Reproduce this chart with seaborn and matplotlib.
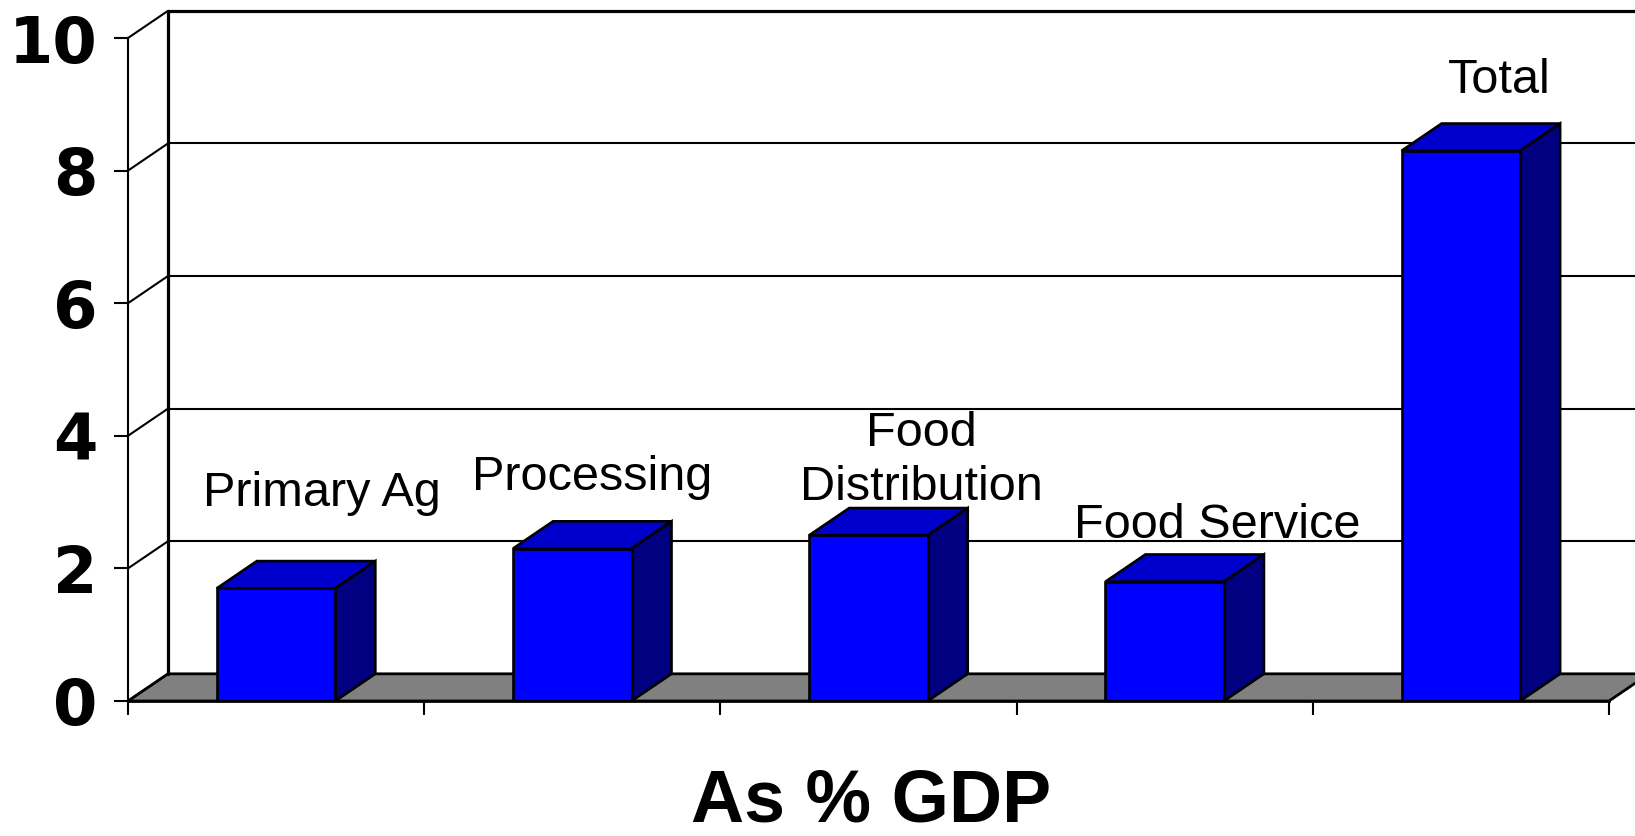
import matplotlib
matplotlib.use("Agg")
import matplotlib.pyplot as plt
from matplotlib.patches import Polygon
import pandas as pd
import seaborn as sns

# Food system share of GDP (%)
categories = ["Primary Ag", "Processing", "Food Distribution", "Food Service", "Total"]
bar_labels = ["Primary Ag", "Processing", "Food\nDistribution", "Food Service", "Total"]
values = [1.7, 2.3, 2.5, 1.8, 8.3]
y_ticks = [0, 2, 4, 6, 8, 10]
x_title = "As % GDP"

# label anchors (data coords: x centre, last-line baseline y)
label_anchor = [(0.153, 2.94), (1.068, 3.18), (2.179, 3.03), (3.178, 2.46), (4.129, 9.17)]

FRONT = "#0000FF"
TOP = "#0000CC"
SIDE = "#000080"
FLOOR = "#808080"
DX, DY = 0.135, 0.41          # oblique depth offset in data units
BAR_W = 0.4

sns.set_theme(style="white")
plt.rcParams["font.family"] = ["Liberation Sans", "DejaVu Sans"]
plt.rcParams["text.color"] = "black"
plt.rcParams["ytick.color"] = "black"
plt.rcParams["xtick.color"] = "black"

W, H = 1635, 836
fig = plt.figure(figsize=(W / 100, H / 100), dpi=100)
left_px, bottom_px, top_px = 128, 701, 12
ax = fig.add_axes([left_px / W, (H - bottom_px) / H, (W - left_px) / W, (bottom_px - top_px) / H])
ax.patch.set_alpha(0)

df = pd.DataFrame({"category": categories, "value": values})
sns.barplot(data=df, x="category", y="value", ax=ax, width=BAR_W, color=FRONT,
            saturation=1, edgecolor="black", linewidth=1.9, zorder=4)

px_per_cat = (1609 - 128) / 5
x_max = 4.5 + (W - 1609) / px_per_cat
y_max = 10 * (bottom_px - top_px) / (bottom_px - 38)
ax.set_xlim(-0.5, x_max)
ax.set_ylim(0, y_max)

# floor
floor = Polygon([(-0.5, 0), (4.5, 0), (4.5 + DX, DY), (-0.5 + DX, DY)], closed=True,
                facecolor=FLOOR, edgecolor="black", linewidth=2.0, zorder=1)
ax.add_patch(floor)

# back wall gridlines and side wall diagonals
for v in y_ticks:
    lw = 2.3 if v == 10 else 1.5
    if v > 0:
        ax.plot([-0.5 + DX, x_max + 0.5], [v + DY, v + DY], color="black", lw=lw,
                zorder=0.5, clip_on=(v != 10), solid_capstyle="butt")
    ax.plot([-0.5, -0.5 + DX], [v, v + DY], color="black", lw=1.5, zorder=2, clip_on=False)
ax.plot([-0.5 + DX, -0.5 + DX], [DY, 10 + DY], color="black", lw=2.3, zorder=2, clip_on=False)

# 3D tops and sides of bars
for p in list(ax.patches):
    if p is floor:
        continue
    x0, w, h = p.get_x(), p.get_width(), p.get_height()
    if w <= 0:
        continue
    top = Polygon([(x0, h), (x0 + w, h), (x0 + w + DX, h + DY), (x0 + DX, h + DY)], closed=True,
                  facecolor=TOP, edgecolor="black", linewidth=1.9, zorder=3)
    side = Polygon([(x0 + w, 0), (x0 + w + DX, DY), (x0 + w + DX, h + DY), (x0 + w, h)], closed=True,
                   facecolor=SIDE, edgecolor="black", linewidth=1.9, zorder=3)
    ax.add_patch(top)
    ax.add_patch(side)

# category labels
for text, (lx, ly) in zip(bar_labels, label_anchor):
    ax.text(lx, ly, text, ha="center", va="baseline", fontsize=35, color="black",
            linespacing=1.27, multialignment="center", zorder=6)

# axes: spines and ticks
for s in ["top", "right"]:
    ax.spines[s].set_visible(False)
ax.spines["left"].set_bounds(0, 10)
ax.spines["left"].set_linewidth(1.5)
ax.spines["left"].set_color("black")
ax.spines["bottom"].set_bounds(-0.5, 4.5)
ax.spines["bottom"].set_linewidth(2.0)
ax.spines["bottom"].set_color("black")
ax.spines["bottom"].set_zorder(5)

ax.set_xticks([i - 0.5 for i in range(len(categories) + 1)])
ax.set_xticklabels([])
ax.set_yticks(y_ticks)
ax.set_yticklabels([str(t) for t in y_ticks], fontfamily="DejaVu Sans", fontweight="heavy",
                   fontsize=46, color="black")
ax.tick_params(axis="x", direction="out", length=10, width=1.5, color="black", bottom=True)
ax.tick_params(axis="y", direction="out", length=10, width=1.5, color="black", left=True, pad=12)
ax.set_xlabel("")
ax.set_ylabel("")
ax.grid(False)

fig.text(871.5 / W, 1 - 822 / H, x_title, ha="center", va="baseline",
         fontsize=53, fontweight="bold", color="black")

fig.savefig("out.png", dpi=100, facecolor="white")
